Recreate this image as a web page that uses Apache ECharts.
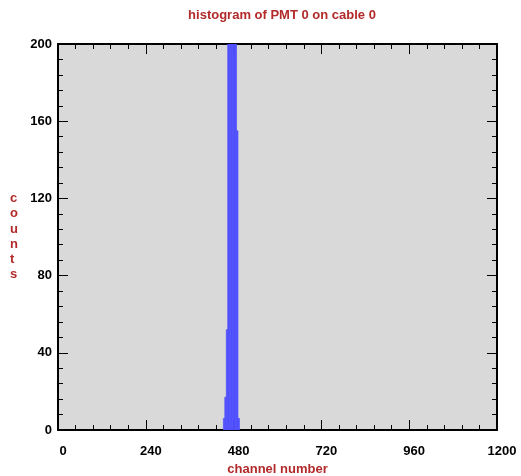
<!DOCTYPE html>
<html><head><meta charset="utf-8">
<script src="https://cdn.jsdelivr.net/npm/echarts@6/dist/echarts.min.js"></script>
<style>html,body{margin:0;padding:0;background:#fff}#c{width:521px;height:476px}</style>
</head><body><div id="c"></div>
<script>
const title = "histogram of PMT 0 on cable 0";
const xName = "channel number";
const yName = "counts";
const xTicks = [0, 240, 480, 720, 960, 1200];
const yTicks = [0, 40, 80, 120, 160, 200];
// histogram bins (channel start) and counts
const binStarts = [452, 456, 460, 464, 468, 472, 476, 480, 484, 488, 492];
const binWidth = 4;
const counts =    [6,   17,  52,  250, 330, 410, 380, 300, 240, 155, 6];

const chart = echarts.init(document.getElementById('c'));
const red = '#b22a2a';
const font = 'Liberation Sans, Arial, sans-serif';
const data = binStarts.map((s, i) => [s, s + binWidth, counts[i]]);
function ax(opts, tickLen, showLine) {
  return Object.assign({
    type: 'value',
    axisLine: {show: showLine, onZero: false, lineStyle: {color: '#000', width: 2}},
    axisTick: {show: true, inside: true, length: tickLen, lineStyle: {color: '#000', width: 1}},
    axisLabel: {show: false},
    splitLine: {show: false}
  }, opts);
}
const labelStyle = {color: '#000', fontSize: 13, fontWeight: 'bold', fontFamily: font};
chart.setOption({
  animation: false,
  title: {text: title, left: 277, top: 4, textAlign: 'center',
    textStyle: {color: red, fontSize: 13, fontWeight: 'bold', fontFamily: font}},
  grid: {left: 58, right: 24, top: 44, bottom: 46, show: true, backgroundColor: '#d9d9d9', borderWidth: 0,
    containLabel: false, outerBoundsMode: 'none'},
  xAxis: [
    ax({min: 0, max: 1200, interval: 240, position: 'bottom',
      name: xName, nameLocation: 'middle', nameGap: 31,
      nameTextStyle: {color: red, fontSize: 13, fontWeight: 'bold', fontFamily: font},
      axisLabel: Object.assign({show: true, margin: 15, padding: [0, 0, 0, 10],
        formatter: v => xTicks.includes(v) ? String(v) : ''}, labelStyle)}, 10, true),
    ax({min: 0, max: 1200, interval: 240, position: 'top'}, 10, true),
    ax({min: 0, max: 1200, interval: 48, position: 'bottom'}, 5, false),
    ax({min: 0, max: 1200, interval: 48, position: 'top'}, 5, false)
  ],
  yAxis: [
    ax({min: 0, max: 200, interval: 40, position: 'left',
      axisLabel: Object.assign({show: true, margin: 6,
        formatter: v => yTicks.includes(v) ? String(v) : ''}, labelStyle)}, 10, true),
    ax({min: 0, max: 200, interval: 40, position: 'right'}, 10, true),
    ax({min: 0, max: 200, interval: 8, position: 'left'}, 5, false),
    ax({min: 0, max: 200, interval: 8, position: 'right'}, 5, false)
  ],
  graphic: [{
    type: 'text', left: 10, top: 191,
    style: {text: yName.split('').join('\n'), fill: red, fontSize: 13, fontWeight: 'bold',
      fontFamily: font, lineHeight: 15.2, align: 'center'}
  }],
  series: [{
    type: 'custom',
    clip: true,
    data: data,
    renderItem: function (params, api) {
      const p0 = api.coord([api.value(0), 0]);
      const p1 = api.coord([api.value(1), api.value(2)]);
      return {
        type: 'rect',
        shape: {x: p0[0], y: p1[1], width: p1[0] - p0[0], height: p0[1] - p1[1]},
        style: {fill: '#5050ff', stroke: '#5050ff', lineWidth: 0.7}
      };
    }
  }]
});
</script></body></html>
